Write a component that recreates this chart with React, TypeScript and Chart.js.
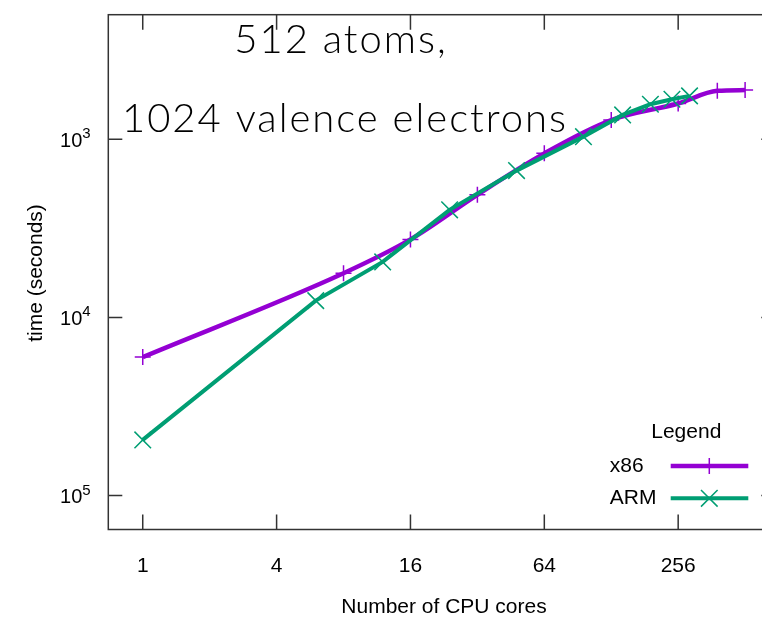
import React, { useEffect, useRef } from "react";
import { Chart, registerables } from "chart.js";

Chart.register(...registerables);

// ---- data ----
const titleLines = ["512 atoms,", "1024 valence electrons"];
const xTitle = "Number of CPU cores";
const yTitle = "time (seconds)";
const legendTitle = "Legend";
const seriesNames = ["x86", "ARM"];

const x86Cores = [1, 8, 16, 32, 64, 128, 256, 384, 512];
const x86Time = [16700, 5650, 3650, 2050, 1200, 780, 630, 535, 530];

const armCores = [1, 6, 12, 24, 48, 96, 144, 192, 240, 288];
const armTime = [48700, 8050, 4880, 2490, 1500, 967, 730, 636, 596, 571];

const xTickValues = [1, 4, 16, 64, 256];
const xTickLabels = ["1", "4", "16", "64", "256"];
const yTickValues = [1000, 10000, 100000];
const yTickBase = ["10", "10", "10"];
const yTickExp = ["3", "4", "5"];

const X_MIN = 0.7;
const X_MAX = 700;
const Y_MIN = 200;
const Y_MAX = 155000;

const X86_COLOR = "#9400D3";
const ARM_COLOR = "#009E73";

const VW = 770;
const CW = 780;
const CH = 623;
const AREA = { left: 108.3, right: 775.3, top: 14.7, bottom: 529.5 };
const LABEL_FONT = "21px 'Liberation Sans', Arial, sans-serif";

function drawMarker(ctx: CanvasRenderingContext2D, style: string, x: number, y: number, color: string) {
  ctx.save();
  ctx.strokeStyle = color;
  ctx.lineWidth = 1.5;
  ctx.beginPath();
  if (style === "cross") {
    const r = 8;
    ctx.moveTo(x - r, y);
    ctx.lineTo(x + r, y);
    ctx.moveTo(x, y - r);
    ctx.lineTo(x, y + r);
  } else {
    const r = 8.3;
    ctx.moveTo(x - r, y - r);
    ctx.lineTo(x + r, y + r);
    ctx.moveTo(x - r, y + r);
    ctx.lineTo(x + r, y - r);
  }
  ctx.stroke();
  ctx.restore();
}

const decorPlugin = {
  id: "decor",
  afterDraw(chart: any) {
    const { ctx, chartArea: a, scales } = chart;
    const xs = scales.x;
    const ys = scales.y;
    ctx.save();

    // border
    ctx.strokeStyle = "#333";
    ctx.lineWidth = 1.5;
    ctx.strokeRect(a.left, a.top, a.right - a.left, a.bottom - a.top);

    // x ticks + labels
    ctx.fillStyle = "#000";
    ctx.font = LABEL_FONT;
    ctx.textAlign = "center";
    ctx.textBaseline = "alphabetic";
    xTickValues.forEach((v, i) => {
      const px = xs.getPixelForValue(v);
      ctx.beginPath();
      ctx.moveTo(px, a.bottom);
      ctx.lineTo(px, a.bottom - 15);
      ctx.moveTo(px, a.top);
      ctx.lineTo(px, a.top + 15);
      ctx.stroke();
      ctx.fillText(xTickLabels[i], px, a.bottom + 42.2);
    });

    // y ticks + labels
    yTickValues.forEach((v, i) => {
      const py = ys.getPixelForValue(v);
      ctx.beginPath();
      ctx.moveTo(a.left, py);
      ctx.lineTo(a.left + 14, py);
      ctx.moveTo(a.right, py);
      ctx.lineTo(a.right - 14, py);
      ctx.stroke();
      ctx.font = "20px 'Liberation Sans', Arial, sans-serif";
      ctx.textAlign = "right";
      ctx.fillText(yTickBase[i], a.left - 26, py + 7.4);
      ctx.font = "15px 'Liberation Sans', Arial, sans-serif";
      ctx.textAlign = "left";
      ctx.fillText(yTickExp[i], a.left - 26, py - 1);
    });

    // axis titles
    ctx.font = LABEL_FONT;
    ctx.textAlign = "center";
    ctx.fillText(xTitle, 444, 613);
    ctx.save();
    ctx.translate(36, 273);
    ctx.rotate(-Math.PI / 2);
    ctx.textBaseline = "middle";
    ctx.fillText(yTitle, 0, 0);
    ctx.restore();

    // big labels
    ctx.save();
    ctx.font = "300 40px Lato, 'Open Sans', sans-serif";
    (ctx as any).letterSpacing = "2px";
    ctx.textAlign = "center";
    ctx.textBaseline = "alphabetic";
    ctx.fillText(titleLines[0], 341, 53.3);
    ctx.fillText(titleLines[1], 345, 131.7);
    ctx.restore();

    // legend
    const ds = chart.data.datasets;
    ctx.font = LABEL_FONT;
    ctx.fillStyle = "#000";
    ctx.textAlign = "center";
    ctx.textBaseline = "alphabetic";
    ctx.fillText(legendTitle, 686.3, 438.3);
    const rows = [
      { name: seriesNames[0], y: 466, color: ds[1].borderColor, style: "cross", w: 4.5 },
      { name: seriesNames[1], y: 498.3, color: ds[0].borderColor, style: "crossRot", w: 4 },
    ];
    rows.forEach((r) => {
      ctx.textAlign = "left";
      ctx.textBaseline = "middle";
      ctx.fillStyle = "#000";
      ctx.fillText(r.name, 609.8, r.y);
      ctx.strokeStyle = r.color;
      ctx.lineWidth = r.w;
      ctx.beginPath();
      ctx.moveTo(670.7, r.y);
      ctx.lineTo(748.3, r.y);
      ctx.stroke();
      drawMarker(ctx, r.style, 709.3, r.y, r.color);
    });

    ctx.restore();
  },
};

export default function App() {
  const ref = useRef<HTMLCanvasElement | null>(null);

  useEffect(() => {
    if (!ref.current) return;
    const chart = new Chart(ref.current, {
      type: "line",
      data: {
        datasets: [
          {
            label: seriesNames[1],
            data: armCores.map((c, i) => ({ x: c, y: armTime[i] })),
            borderColor: ARM_COLOR,
            backgroundColor: ARM_COLOR,
            borderWidth: 4,
            pointStyle: "crossRot",
            pointRadius: 11.7,
            pointBorderWidth: 1.5,
            pointBorderColor: ARM_COLOR,
            tension: 0,
            order: 0,
          },
          {
            label: seriesNames[0],
            data: x86Cores.map((c, i) => ({ x: c, y: x86Time[i] })),
            borderColor: X86_COLOR,
            backgroundColor: X86_COLOR,
            borderWidth: 4.5,
            pointStyle: "cross",
            pointRadius: 8,
            pointBorderWidth: 1.5,
            pointBorderColor: X86_COLOR,
            cubicInterpolationMode: "monotone",
            order: 1,
          },
        ],
      },
      options: {
        animation: false,
        responsive: false,
        devicePixelRatio: 1,
        layout: {
          autoPadding: false,
          padding: {
            left: AREA.left,
            right: CW - AREA.right,
            top: AREA.top,
            bottom: CH - AREA.bottom,
          },
        },
        plugins: {
          legend: { display: false },
          tooltip: { enabled: false },
        },
        scales: {
          x: {
            type: "logarithmic",
            min: X_MIN,
            max: X_MAX,
            bounds: "data",
            display: false,
          },
          y: {
            type: "logarithmic",
            min: Y_MIN,
            max: Y_MAX,
            reverse: true,
            bounds: "data",
            display: false,
          },
        },
      },
      plugins: [decorPlugin],
    });
    return () => chart.destroy();
  }, []);

  return (
    <div style={{ width: VW, height: CH, overflow: "hidden", margin: -8 }}>
      <canvas ref={ref} width={CW} height={CH} style={{ display: "block", width: CW, height: CH }} />
    </div>
  );
}
